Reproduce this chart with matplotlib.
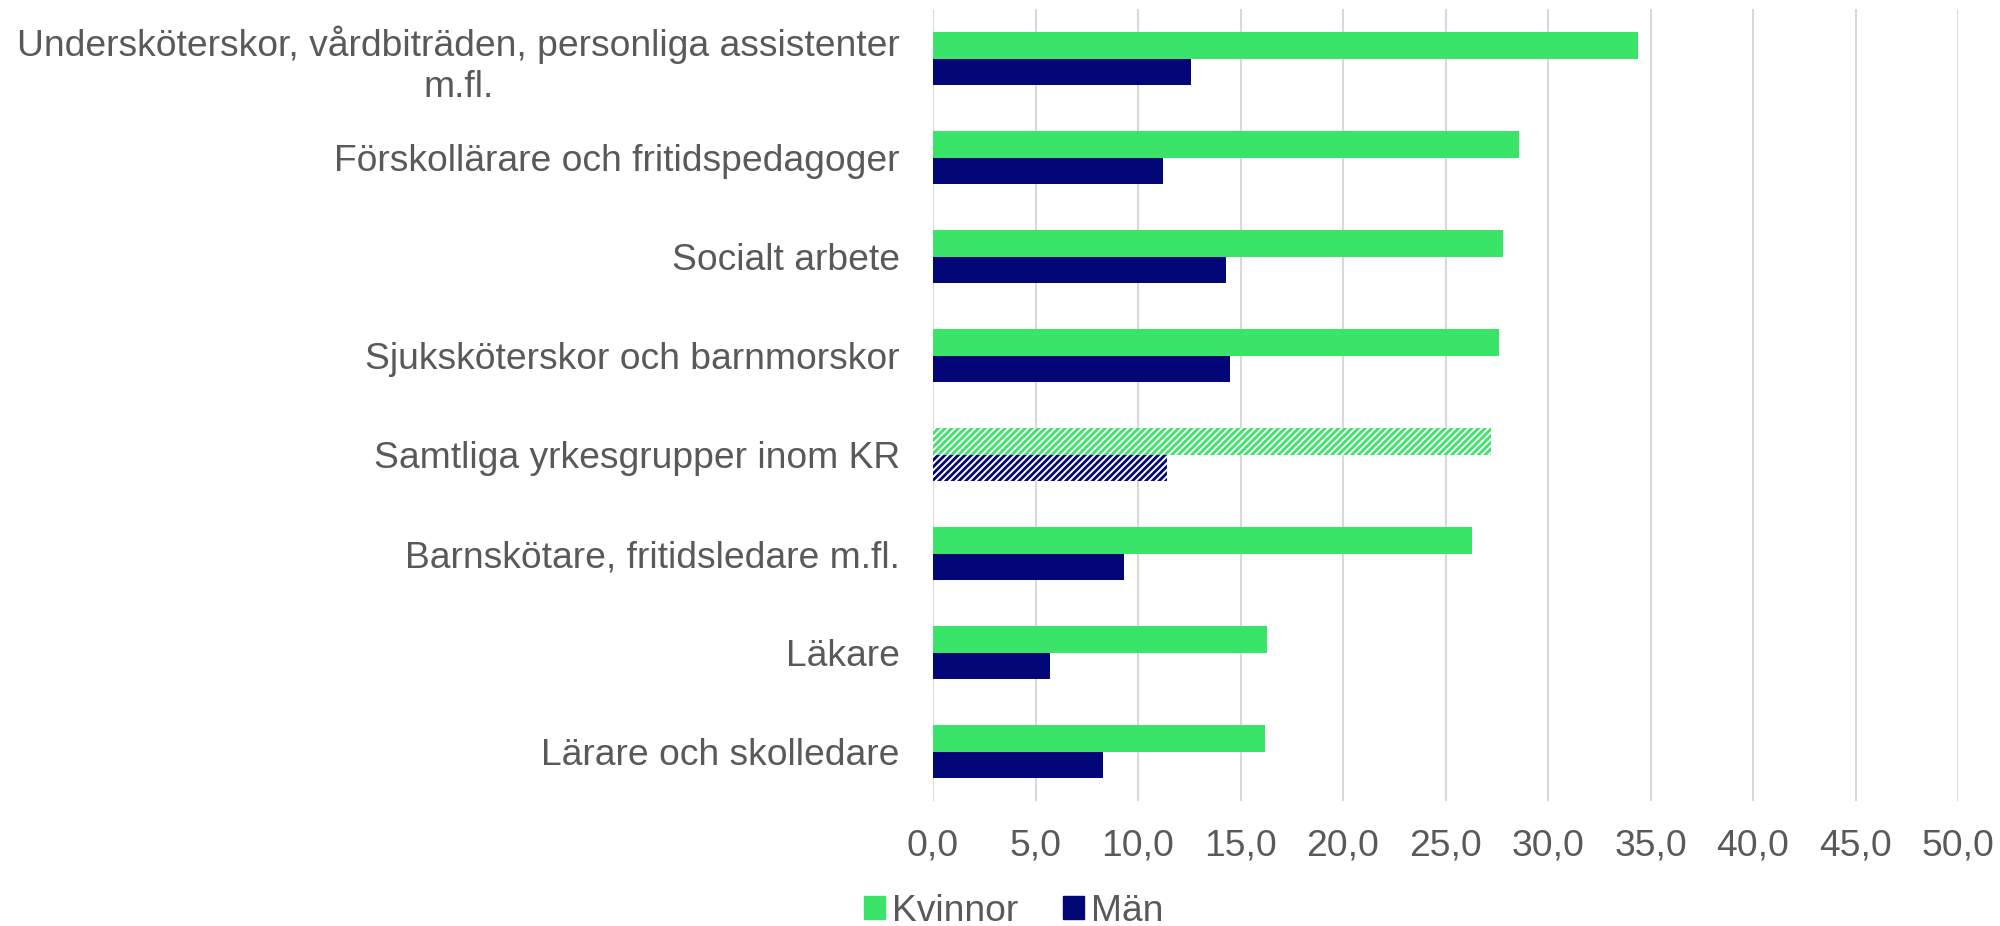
# Horizontal bar chart: Kvinnor / Män per yrkesgrupp
import matplotlib.pyplot as plt
import numpy as np

plt.rcParams['font.family'] = ['Liberation Sans', 'DejaVu Sans']
plt.rcParams['hatch.linewidth'] = 2.0

categories = [
    'Undersköterskor, vårdbiträden, personliga assistenter\nm.fl.',
    'Förskollärare och fritidspedagoger',
    'Socialt arbete',
    'Sjuksköterskor och barnmorskor',
    'Samtliga yrkesgrupper inom KR',
    'Barnskötare, fritidsledare m.fl.',
    'Läkare',
    'Lärare och skolledare',
]
kvinnor = [34.4, 28.6, 27.8, 27.6, 27.2, 26.3, 16.3, 16.2]
man = [12.6, 11.2, 14.3, 14.5, 11.4, 9.3, 5.7, 8.3]
total_row = 'Samtliga yrkesgrupper inom KR'

GREEN = '#3AE468'
NAVY = '#020677'
TEXT = '#595959'
FS = 26.8

fig = plt.figure(figsize=(20, 9.26), dpi=100)
ax = fig.add_axes([0.4665, 0.135, 0.5125, 0.855])

ind = np.arange(len(categories))
h = 0.27

for i, cat in enumerate(categories):
    if cat == total_row:
        ax.barh(ind[i] - h / 2, kvinnor[i], h, facecolor='white', edgecolor=GREEN,
                linewidth=0, hatch='/////', zorder=3)
        ax.barh(ind[i] + h / 2, man[i], h, facecolor='white', edgecolor=NAVY,
                linewidth=0, hatch='/////', zorder=3)
    else:
        ax.barh(ind[i] - h / 2, kvinnor[i], h, color=GREEN, zorder=3)
        ax.barh(ind[i] + h / 2, man[i], h, color=NAVY, zorder=3)

ax.set_xlim(0, 50)
ax.set_ylim(len(categories) - 0.5, -0.5)
ax.set_xticks(np.arange(0, 51, 5))
ax.set_xticklabels([f'{v:.1f}'.replace('.', ',') for v in np.arange(0, 51, 5)])
ax.set_yticks(ind)
ax.set_yticklabels(categories)
for lbl in ax.get_yticklabels():
    lbl.set_multialignment('center')
    lbl.set_linespacing(1.2)

ax.tick_params(axis='both', length=0, labelsize=FS, labelcolor=TEXT)
ax.tick_params(axis='y', pad=24)
ax.tick_params(axis='x', pad=20)
ax.grid(axis='x', color='#D9D9D9', linewidth=1.5, zorder=0)
for s in ax.spines.values():
    s.set_visible(False)

handles = [plt.Rectangle((0, 0), 1, 1, color=GREEN),
           plt.Rectangle((0, 0), 1, 1, color=NAVY)]
fig.legend(handles, ['Kvinnor', 'Män'], loc='lower center', bbox_to_anchor=(0.507, -0.039),
           ncol=2, frameon=False, fontsize=FS, labelcolor=TEXT,
           handlelength=0.55, handleheight=0.55, handletextpad=0.2, columnspacing=1.2)

plt.savefig('out.png', dpi=100)
